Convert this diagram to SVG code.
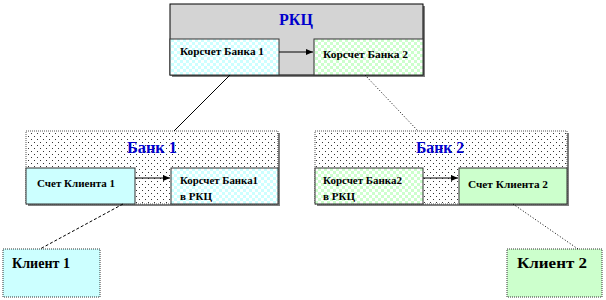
<svg xmlns="http://www.w3.org/2000/svg" width="606" height="300" viewBox="0 0 606 300" font-family="'Liberation Serif', 'DejaVu Serif', serif">
<style>
text{font-weight:bold;fill:#000}
.title{font-size:16px;fill:#0000cc}
.lbl{font-size:11px}
.cl{font-size:14px}
.edge{stroke:#000;stroke-width:1;fill:none}
.sh{fill:#808080}
</style>
<defs>
<pattern id="chkC" width="6" height="6" patternUnits="userSpaceOnUse">
<rect width="6" height="6" fill="#ffffff"/><rect width="3" height="3" fill="#ccffff"/><rect x="3" y="3" width="3" height="3" fill="#ccffff"/>
</pattern>
<pattern id="chkG" width="6" height="6" patternUnits="userSpaceOnUse">
<rect width="6" height="6" fill="#ffffff"/><rect width="3" height="3" fill="#ccffcc"/><rect x="3" y="3" width="3" height="3" fill="#ccffcc"/>
</pattern>
<pattern id="dots" width="6" height="6" patternUnits="userSpaceOnUse">
<rect width="6" height="6" fill="#ffffff"/><rect x="1" y="1" width="1" height="1" fill="#333"/><rect x="4" y="4" width="1" height="1" fill="#333"/>
</pattern>
<marker id="ah" markerWidth="8" markerHeight="8" refX="7" refY="4" orient="auto" markerUnits="userSpaceOnUse">
<path d="M0,1 L7,4 L0,7 z" fill="#000"/>
</marker>
</defs>
<rect width="606" height="300" fill="#fff"/>

<g id="rkc">
<rect class="sh" x="172" y="6" width="253" height="71"/>
<rect x="170" y="4" width="253" height="71" fill="#d4d4d4" stroke="#000" stroke-width="1"/>
<text class="title" x="296" y="25" text-anchor="middle">РКЦ</text>
</g>
<g id="korr1-rkc">
<rect x="170" y="39" width="109" height="36" fill="url(#chkC)" stroke="#333" stroke-width="1"/>
<text class="lbl" x="180" y="55" textLength="84" lengthAdjust="spacingAndGlyphs">Корсчет Банка 1</text>
</g>
<g id="korr2-rkc">
<rect x="314" y="39" width="109" height="36" fill="url(#chkG)" stroke="#333" stroke-width="1"/>
<text class="lbl" x="323" y="58" textLength="85" lengthAdjust="spacingAndGlyphs">Корсчет Банка 2</text>
</g>

<g id="bank1">
<rect class="sh" x="28" y="133" width="252" height="73"/>
<rect x="26" y="131" width="252" height="73" fill="url(#dots)" stroke="#555" stroke-width="1" stroke-dasharray="1,1"/>
<text class="title" x="127" y="153" textLength="50" lengthAdjust="spacingAndGlyphs">Банк 1</text>
</g>
<g id="schet1">
<rect x="26" y="168" width="109" height="36" fill="#ccffff" stroke="#333" stroke-width="1"/>
<text class="lbl" x="37" y="187" textLength="78" lengthAdjust="spacingAndGlyphs">Счет Клиента 1</text>
</g>
<g id="korr1-bank">
<rect x="171" y="168" width="107" height="36" fill="url(#chkC)" stroke="#333" stroke-width="1"/>
<text class="lbl" x="180" y="184" textLength="78" lengthAdjust="spacingAndGlyphs">Корсчет Банка1</text>
<text class="lbl" x="180" y="200">в РКЦ</text>
</g>

<g id="bank2">
<rect class="sh" x="317" y="133" width="252" height="73"/>
<rect x="315" y="131" width="252" height="73" fill="url(#dots)" stroke="#555" stroke-width="1" stroke-dasharray="1,1"/>
<text class="title" x="416" y="153" textLength="48" lengthAdjust="spacingAndGlyphs">Банк 2</text>
</g>
<g id="korr2-bank">
<rect x="315" y="168" width="108" height="36" fill="url(#chkG)" stroke="#333" stroke-width="1"/>
<text class="lbl" x="323" y="184" textLength="79" lengthAdjust="spacingAndGlyphs">Корсчет Банка2</text>
<text class="lbl" x="323" y="200">в РКЦ</text>
</g>
<g id="schet2">
<rect x="459" y="168" width="108" height="36" fill="#ccffcc" stroke="#333" stroke-width="1"/>
<text class="lbl" x="468" y="188" textLength="80" lengthAdjust="spacingAndGlyphs">Счет Клиента 2</text>
</g>

<g id="client1">
<rect x="3" y="249" width="97" height="48" fill="#ccffff" stroke="#333" stroke-width="1" stroke-dasharray="1,1"/>
<text class="cl" x="12" y="268" textLength="58" lengthAdjust="spacingAndGlyphs">Клиент 1</text>
</g>
<g id="client2">
<rect x="507" y="249" width="95" height="48" fill="#ccffcc" stroke="#333" stroke-width="1" stroke-dasharray="1,1"/>
<text class="cl" x="517" y="268" textLength="70" lengthAdjust="spacingAndGlyphs">Клиент 2</text>
</g>

<g id="connectors">
<line class="edge" x1="279" y1="52" x2="313" y2="52" marker-end="url(#ah)"/>
<line class="edge" x1="135" y1="178" x2="170" y2="178" marker-end="url(#ah)"/>
<line class="edge" x1="423" y1="178" x2="458" y2="178" marker-end="url(#ah)"/>
<line class="edge" x1="230" y1="75" x2="174" y2="131"/>
<line class="edge" x1="365" y1="75" x2="418" y2="131" stroke-dasharray="1,2"/>
<line class="edge" x1="123" y1="204" x2="40" y2="249" stroke-dasharray="3,2"/>
<line class="edge" x1="513" y1="204" x2="578" y2="249" stroke-dasharray="1,2"/>
</g>
</svg>
